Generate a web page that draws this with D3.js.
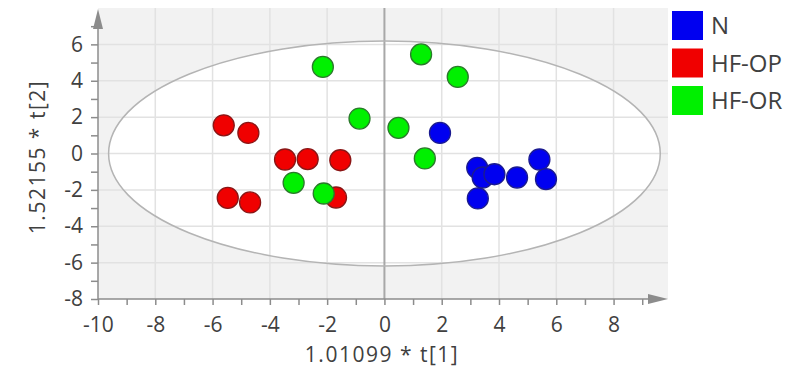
<!DOCTYPE html>
<html>
<head>
<meta charset="utf-8">
<script src="https://cdn.jsdelivr.net/npm/d3@7"></script>
<style>
  body { margin: 0; background: #fff; }
  svg { font-family: "Open Sans", "Noto Sans", sans-serif; }
</style>
</head>
<body>
<div class="ScorePlot"></div>
<script>
// score plot data
const groups = ["N", "HF-OP", "HF-OR"];
const nT1 = [1.94, 3.24, 3.43, 3.84, 4.63, 5.41, 5.64, 3.26];
const nT2 = [1.13, -0.79, -1.32, -1.14, -1.32, -0.33, -1.41, -2.47];
const opT1 = [-5.61, -4.75, -3.47, -2.68, -1.54, -1.69, -5.47, -4.69];
const opT2 = [1.55, 1.13, -0.33, -0.31, -0.37, -2.42, -2.44, -2.69];
const orT1 = [-2.15, 1.28, 2.56, -0.87, 0.49, 1.41, -3.17, -2.12];
const orT2 = [4.76, 5.45, 4.21, 1.92, 1.41, -0.27, -1.61, -2.20];
const xTicks = [-10, -8, -6, -4, -2, 0, 2, 4, 6, 8];
const yTicks = [-8, -6, -4, -2, 0, 2, 4, 6];
const ellipseT1 = 9.63, ellipseT2 = 6.18; // Hotelling T2 ellipse radii

const fills = {"N": "#0000f0", "HF-OP": "#f00000", "HF-OR": "#00f000"};
const strokes = {"N": "#1a1a90", "HF-OP": "#8a1515", "HF-OR": "#2a7a2a"};

let points = [];
nT1.forEach((v, i) => points.push({g: "N", t1: v, t2: nT2[i]}));
opT1.forEach((v, i) => points.push({g: "HF-OP", t1: v, t2: opT2[i]}));
orT1.forEach((v, i) => points.push({g: "HF-OR", t1: v, t2: orT2[i]}));

let W = 789, H = 379;
let svg = d3.select(".ScorePlot")
    .append("svg")
    .attr("width", W)
    .attr("height", H);

let x = d3.scaleLinear().domain([-10, 9.9]).range([98, 668]);
let y = d3.scaleLinear().domain([-8, 8]).range([299, 8]);

// gray plot background, white inside the ellipse
svg.append("rect")
    .attr("x", x(-10)).attr("y", y(8))
    .attr("width", x(9.9) - x(-10)).attr("height", y(-8) - y(8))
    .attr("fill", "#f2f2f2");

svg.append("ellipse")
    .attr("cx", x(0)).attr("cy", y(0))
    .attr("rx", x(ellipseT1) - x(0)).attr("ry", y(0) - y(ellipseT2))
    .attr("fill", "#fff");

// grid
svg.append("g").selectAll("line")
    .data(xTicks.filter(d => d > -10 && d !== 0))
    .enter().append("line")
    .attr("x1", d => x(d)).attr("x2", d => x(d))
    .attr("y1", y(8)).attr("y2", y(-8))
    .attr("stroke", "#e2e2e2").attr("stroke-width", 1.5);

svg.append("g").selectAll("line")
    .data(yTicks.filter(d => d > -8))
    .enter().append("line")
    .attr("x1", x(-10)).attr("x2", x(9.9))
    .attr("y1", d => y(d)).attr("y2", d => y(d))
    .attr("stroke", "#e2e2e2").attr("stroke-width", 1.5);

svg.append("line")
    .attr("x1", x(0)).attr("x2", x(0))
    .attr("y1", y(8)).attr("y2", y(-8))
    .attr("stroke", "#a8a8a8").attr("stroke-width", 2);

svg.append("ellipse")
    .attr("cx", x(0)).attr("cy", y(0))
    .attr("rx", x(ellipseT1) - x(0)).attr("ry", y(0) - y(ellipseT2))
    .attr("fill", "none")
    .attr("stroke", "#b4b4b4").attr("stroke-width", 1.5);

// axes
let xAxis = svg.append("g")
    .attr("transform", "translate(0," + y(-8) + ")")
    .call(d3.axisBottom(x)
        .tickValues(d3.range(-10, 10, 1))
        .tickSize(6)
        .tickPadding(12)
        .tickFormat(d => d % 2 === 0 ? d : ""));

let yAxis = svg.append("g")
    .attr("transform", "translate(" + x(-10) + ",0)")
    .call(d3.axisLeft(y)
        .tickValues(d3.range(-8, 8, 1))
        .tickSize(7)
        .tickPadding(8)
        .tickFormat(d => d % 2 === 0 ? d : ""));

[xAxis, yAxis].forEach(a => {
    a.select(".domain").remove();
    a.selectAll("line").attr("stroke", "#8c8c8c").attr("stroke-width", 1.5);
    a.selectAll("text").attr("fill", "#404040").attr("font-size", 21)
        .attr("font-family", "Open Sans");
});

svg.append("line")
    .attr("x1", x(-10)).attr("x2", 650)
    .attr("y1", y(-8)).attr("y2", y(-8))
    .attr("stroke", "#8c8c8c").attr("stroke-width", 1.5);
svg.append("path")
    .attr("d", "M648," + (y(-8) - 5) + "L668," + y(-8) + "L648," + (y(-8) + 5) + "Z")
    .attr("fill", "#8c8c8c");

svg.append("line")
    .attr("x1", x(-10)).attr("x2", x(-10))
    .attr("y1", y(-8)).attr("y2", 26)
    .attr("stroke", "#8c8c8c").attr("stroke-width", 1.5);
svg.append("path")
    .attr("d", "M" + (x(-10) - 5) + ",29L" + x(-10) + ",9L" + (x(-10) + 5) + ",29Z")
    .attr("fill", "#8c8c8c");

// points
svg.append("g").selectAll("circle")
    .data(points)
    .enter().append("circle")
    .attr("cx", d => x(d.t1))
    .attr("cy", d => y(d.t2))
    .attr("r", 10.5)
    .attr("fill", d => fills[d.g])
    .attr("stroke", d => strokes[d.g])
    .attr("stroke-width", 1.3);

// axis titles
svg.append("text")
    .attr("x", 382).attr("y", 355)
    .attr("dy", "0.35em")
    .attr("text-anchor", "middle")
    .attr("font-size", 21)
    .attr("letter-spacing", 1.5)
    .attr("fill", "#404040")
    .text("1.01099 * t[1]");

svg.append("text")
    .attr("transform", "translate(38,157) rotate(-90)")
    .attr("dy", "0.35em")
    .attr("text-anchor", "middle")
    .attr("font-size", 21)
    .attr("letter-spacing", 1.5)
    .attr("fill", "#404040")
    .text("1.52155 * t[2]");

// legend
let legend = svg.append("g").selectAll("g")
    .data(groups)
    .enter().append("g")
    .attr("transform", (d, i) => "translate(672," + (11 + i * 37.5) + ")");

legend.append("rect")
    .attr("width", 31).attr("height", 29)
    .attr("fill", d => fills[d]);

legend.append("text")
    .attr("x", 39).attr("y", 15)
    .attr("dy", "0.35em")
    .attr("font-size", 24)
    .attr("fill", "#404040")
    .text(d => d);
</script>
</body>
</html>
